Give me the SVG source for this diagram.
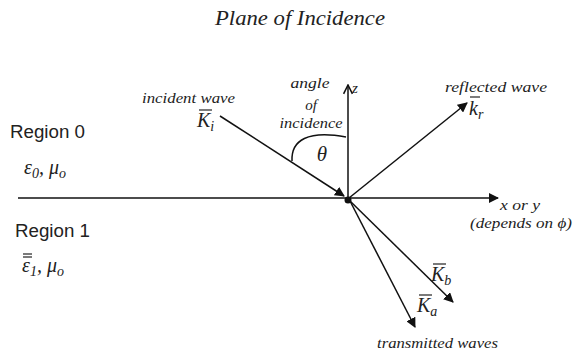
<svg xmlns="http://www.w3.org/2000/svg" width="573" height="356" viewBox="0 0 573 356">
<defs>
<style>
.it{font-family:"Liberation Serif",serif;font-style:italic;fill:#222;}
.sans{font-family:"Liberation Sans",Arial,sans-serif;fill:#222;}
.ln{stroke:#111;stroke-width:1.5;fill:none;}
.bar{stroke:#222;stroke-width:1.2;}
</style>
<marker id="fill" viewBox="0 0 10 10" refX="9" refY="5" markerWidth="10" markerHeight="10" markerUnits="userSpaceOnUse" orient="auto">
<path d="M0,0 L10,5 L0,10 z" fill="#111"/>
</marker>
<marker id="open" viewBox="0 0 10 10" refX="9" refY="5" markerWidth="11" markerHeight="11" markerUnits="userSpaceOnUse" orient="auto">
<path d="M1,1 L9,5 L1,9" fill="none" stroke="#111" stroke-width="1.4"/>
</marker>
</defs>
<rect width="573" height="356" fill="#fff"/>
<g id="title"><text class="it" x="215" y="25" font-size="20" textLength="170" lengthAdjust="spacingAndGlyphs">Plane of Incidence</text></g>
<g id="connectors">
<line class="ln" x1="18" y1="198" x2="498" y2="198" marker-end="url(#fill)"/>
<line class="ln" x1="348" y1="198" x2="348" y2="85" marker-end="url(#open)"/>
<line class="ln" x1="220" y1="116" x2="344" y2="196" marker-end="url(#fill)"/>
<line class="ln" x1="349" y1="198" x2="467" y2="103" marker-end="url(#fill)"/>
<line class="ln" x1="350" y1="201" x2="453" y2="302" marker-end="url(#fill)"/>
<line class="ln" x1="350" y1="201" x2="415" y2="327" marker-end="url(#fill)"/>
<path class="ln" d="M292,161 C291,140 308,130 346,137"/>
<circle cx="348" cy="200" r="3.5" fill="#111"/>
</g>
<g id="region0">
<text class="sans" x="10" y="138" font-size="18" textLength="75" lengthAdjust="spacingAndGlyphs">Region 0</text>
<text class="it" x="24" y="174" font-size="20">ε<tspan font-size="14" dy="4">0</tspan><tspan dy="-4">, μ</tspan><tspan font-size="14" dy="4">o</tspan></text>
</g>
<g id="region1">
<text class="sans" x="15" y="237" font-size="18" textLength="75" lengthAdjust="spacingAndGlyphs">Region 1</text>
<text class="it" x="22" y="272" font-size="20">ε<tspan font-size="14" dy="4">1</tspan><tspan dy="-4">, μ</tspan><tspan font-size="14" dy="4">o</tspan></text>
<line class="bar" x1="23" y1="254" x2="32" y2="254"/>
<line class="bar" x1="23" y1="257" x2="32" y2="257"/>
</g>
<g id="incident">
<text class="it" x="142" y="103" font-size="15" textLength="93" lengthAdjust="spacingAndGlyphs">incident wave</text>
<text class="it" x="197" y="127" font-size="20">K<tspan font-size="14" dy="4">i</tspan></text>
<line class="bar" x1="199" y1="110" x2="212" y2="110"/>
</g>
<g id="angle">
<text class="it" x="310" y="88" font-size="15" text-anchor="middle" textLength="39" lengthAdjust="spacingAndGlyphs">angle</text>
<text class="it" x="311" y="110" font-size="15" text-anchor="middle">of</text>
<text class="it" x="311" y="128" font-size="15" text-anchor="middle" textLength="63" lengthAdjust="spacingAndGlyphs">incidence</text>
<text class="it" x="322" y="161" font-size="21" text-anchor="middle">θ</text>
</g>
<g id="zaxis"><text class="it" x="352" y="93" font-size="15">z</text></g>
<g id="reflected">
<text class="it" x="445" y="92" font-size="15" textLength="102" lengthAdjust="spacingAndGlyphs">reflected wave</text>
<text class="it" x="469" y="115" font-size="20">k<tspan font-size="14" dy="4">r</tspan></text>
<line class="bar" x1="470" y1="97" x2="480" y2="97"/>
</g>
<g id="xaxis">
<text class="it" x="500" y="210" font-size="15" textLength="40" lengthAdjust="spacingAndGlyphs">x or y</text>
<text class="it" x="470" y="228" font-size="15" textLength="102" lengthAdjust="spacingAndGlyphs">(depends on ϕ)</text>
</g>
<g id="transmitted">
<text class="it" x="431" y="281" font-size="20">K<tspan font-size="14" dy="4">b</tspan></text>
<line class="bar" x1="433" y1="264" x2="446" y2="264"/>
<text class="it" x="417" y="312" font-size="20">K<tspan font-size="14" dy="4">a</tspan></text>
<line class="bar" x1="419" y1="295" x2="432" y2="295"/>
<text class="it" x="377" y="348" font-size="15" textLength="121" lengthAdjust="spacingAndGlyphs">transmitted waves</text>
</g>
</svg>
